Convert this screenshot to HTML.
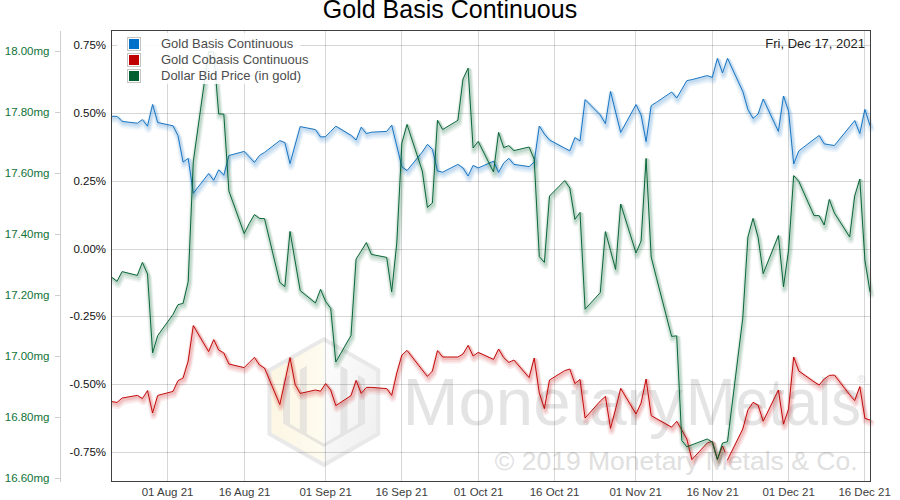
<!DOCTYPE html>
<html lang="en"><head><meta charset="utf-8"><title>Gold Basis Continuous</title>
<style>html,body{margin:0;padding:0;background:#fff;font-family:"Liberation Sans",sans-serif}svg{display:block}</style>
</head><body>
<svg width="900" height="500" viewBox="0 0 900 500" role="img" aria-label="Gold Basis Continuous chart">
<rect width="900" height="500" fill="#fff"/>
<g id="wm">
<defs><linearGradient id="lgL" x1="0" y1="0" x2="1" y2="0"><stop offset="0" stop-color="#fcf6e3"/><stop offset="1" stop-color="#fefbf0"/></linearGradient><linearGradient id="lgR" x1="0" y1="0" x2="1" y2="1"><stop offset="0" stop-color="#fdfdfd"/><stop offset="1" stop-color="#efefef"/></linearGradient></defs>
<polygon points="323.9,336.9 380.3,369.1 380.3,435 324,467.3 267.4,435 267.4,369.1" fill="#e9e9e9"/>
<polygon points="323.9,341.6 323.9,462.6 271.4,432.7 271.4,371.5" fill="url(#lgL)"/>
<polygon points="323.9,341.6 376.3,371.5 376.3,432.7 323.9,462.6" fill="url(#lgR)"/>
<path fill="#e7e5de" d="M283,379.0 L290,375.0 L290,424.1 L299.8,429.7 L299.8,369.8 L306.8,365.8 L306.8,433.7 L324,443.5 L324,447 L283,423.6 Z"/>
<path fill="#e4e4e4" d="M365,379.0 L358,375.0 L358,424.1 L347.4,430.1 L347.4,369.8 L340.4,365.8 L340.4,434.1 L324,443.5 L324,447 L365,423.6 Z"/>
<g font-family="'Liberation Sans', sans-serif">
<text x="402.5" y="424.7" font-size="67.2" text-anchor="start" fill="#e4e4e4">Monetary</text>
<text x="686" y="424.7" font-size="67.2" text-anchor="start" fill="#e4e4e4" textLength="175" lengthAdjust="spacingAndGlyphs">Metals</text>
<text x="857.2" y="382.9" font-size="11.0" text-anchor="start" fill="#e4e4e4">®</text>
<text x="857.5" y="469.8" font-size="26.5" text-anchor="end" fill="#e0e0e0">© 2019 Monetary Metals &amp; Co.</text>
</g>
</g>
<g shape-rendering="crispEdges" stroke="#000" stroke-opacity="0.16" stroke-width="1">
<line x1="167.5" y1="31" x2="167.5" y2="481" />
<line x1="244.5" y1="31" x2="244.5" y2="481" />
<line x1="325.5" y1="31" x2="325.5" y2="481" />
<line x1="401.5" y1="31" x2="401.5" y2="481" />
<line x1="478.5" y1="31" x2="478.5" y2="481" />
<line x1="554.5" y1="31" x2="554.5" y2="481" />
<line x1="635.5" y1="31" x2="635.5" y2="481" />
<line x1="712.5" y1="31" x2="712.5" y2="481" />
<line x1="788.5" y1="31" x2="788.5" y2="481" />
<line x1="864.5" y1="31" x2="864.5" y2="481" />
<line x1="112" y1="45.5" x2="870" y2="45.5"/>
<line x1="112" y1="113.5" x2="870" y2="113.5"/>
<line x1="112" y1="181.5" x2="870" y2="181.5"/>
<line x1="112" y1="249.5" x2="870" y2="249.5"/>
<line x1="112" y1="316.5" x2="870" y2="316.5"/>
<line x1="112" y1="384.5" x2="870" y2="384.5"/>
<line x1="112" y1="452.5" x2="870" y2="452.5"/>
</g>
<g shape-rendering="crispEdges" stroke="#cfcfcf" stroke-width="1">
<line x1="60.5" y1="31" x2="60.5" y2="482"/>
<line x1="55" y1="51.5" x2="60" y2="51.5"/>
<line x1="55" y1="112.5" x2="60" y2="112.5"/>
<line x1="55" y1="173.5" x2="60" y2="173.5"/>
<line x1="55" y1="234.5" x2="60" y2="234.5"/>
<line x1="55" y1="295.5" x2="60" y2="295.5"/>
<line x1="55" y1="356.5" x2="60" y2="356.5"/>
<line x1="55" y1="417.5" x2="60" y2="417.5"/>
<line x1="55" y1="478.5" x2="60" y2="478.5"/>
</g>
<clipPath id="cp"><rect x="111" y="30" width="764" height="452"/></clipPath>
<g fill="none" stroke="#0f70c0" stroke-linejoin="round" stroke-linecap="round" clip-path="url(#cp)">
<path d="M111.9,116.3 L117.0,116.3 L122.1,121.4 L137.3,123.2 L142.4,119.6 L147.5,126.2 L152.6,104.5 L157.7,122.5 L173.0,125.8 L178.0,135.7 L183.1,162.1 L188.2,158.3 L193.3,193.3 L208.6,173.5 L213.7,180.3 L218.7,169.8 L223.8,175.3 L228.9,155.5 L244.2,151.4 L249.3,156.9 L254.4,162.4 L259.5,155.4 L264.5,152.4 L279.8,140.6 L284.9,142.6 L290.0,163.6 L295.1,145.1 L300.2,126.6 L315.4,129.6 L320.5,137.0 L325.6,136.6 L330.7,131.4 L335.8,126.2 L351.0,135.4 L356.1,140.0 L361.2,127.2 L366.3,133.6 L371.4,132.2 L386.7,131.4 L391.7,125.2 L396.8,146.0 L401.9,166.8 L407.0,170.6 L422.3,152.0 L427.4,144.4 L432.4,149.4 L437.5,171.0 L442.6,172.2 L457.9,164.4 L463.0,168.0 L468.1,176.0 L473.1,165.4 L478.2,168.0 L493.5,161.2 L498.6,172.4 L503.7,163.0 L508.8,158.4 L513.9,164.4 L529.1,166.6 L534.2,162.0 L539.3,126.0 L544.4,134.0 L549.5,140.0 L564.7,148.2 L569.8,150.8 L574.9,137.6 L580.0,141.0 L585.1,99.6 L600.3,115.0 L605.4,123.6 L610.5,91.4 L615.6,112.0 L620.7,132.4 L636.0,104.6 L641.1,115.0 L646.1,141.6 L651.2,105.6 L656.3,102.4 L671.6,92.0 L676.7,98.0 L681.8,89.4 L686.8,80.6 L691.9,79.6 L707.2,75.6 L712.3,77.4 L717.4,58.4 L722.5,73.0 L727.5,58.4 L742.8,91.4 L747.9,109.4 L753.0,118.4 L758.1,114.0 L763.2,99.0 L778.4,131.4 L783.5,96.0 L788.6,111.2 L793.7,164.0 L798.8,150.9 L814.0,139.2 L819.1,135.5 L824.2,143.9 L829.3,144.7 L834.4,145.5 L849.7,126.7 L854.7,120.6 L859.8,133.5 L864.9,109.4 L870.0,125.5" stroke-width="7" stroke-opacity="0.07" transform="translate(1,3.3)"/>
<path d="M111.9,116.3 L117.0,116.3 L122.1,121.4 L137.3,123.2 L142.4,119.6 L147.5,126.2 L152.6,104.5 L157.7,122.5 L173.0,125.8 L178.0,135.7 L183.1,162.1 L188.2,158.3 L193.3,193.3 L208.6,173.5 L213.7,180.3 L218.7,169.8 L223.8,175.3 L228.9,155.5 L244.2,151.4 L249.3,156.9 L254.4,162.4 L259.5,155.4 L264.5,152.4 L279.8,140.6 L284.9,142.6 L290.0,163.6 L295.1,145.1 L300.2,126.6 L315.4,129.6 L320.5,137.0 L325.6,136.6 L330.7,131.4 L335.8,126.2 L351.0,135.4 L356.1,140.0 L361.2,127.2 L366.3,133.6 L371.4,132.2 L386.7,131.4 L391.7,125.2 L396.8,146.0 L401.9,166.8 L407.0,170.6 L422.3,152.0 L427.4,144.4 L432.4,149.4 L437.5,171.0 L442.6,172.2 L457.9,164.4 L463.0,168.0 L468.1,176.0 L473.1,165.4 L478.2,168.0 L493.5,161.2 L498.6,172.4 L503.7,163.0 L508.8,158.4 L513.9,164.4 L529.1,166.6 L534.2,162.0 L539.3,126.0 L544.4,134.0 L549.5,140.0 L564.7,148.2 L569.8,150.8 L574.9,137.6 L580.0,141.0 L585.1,99.6 L600.3,115.0 L605.4,123.6 L610.5,91.4 L615.6,112.0 L620.7,132.4 L636.0,104.6 L641.1,115.0 L646.1,141.6 L651.2,105.6 L656.3,102.4 L671.6,92.0 L676.7,98.0 L681.8,89.4 L686.8,80.6 L691.9,79.6 L707.2,75.6 L712.3,77.4 L717.4,58.4 L722.5,73.0 L727.5,58.4 L742.8,91.4 L747.9,109.4 L753.0,118.4 L758.1,114.0 L763.2,99.0 L778.4,131.4 L783.5,96.0 L788.6,111.2 L793.7,164.0 L798.8,150.9 L814.0,139.2 L819.1,135.5 L824.2,143.9 L829.3,144.7 L834.4,145.5 L849.7,126.7 L854.7,120.6 L859.8,133.5 L864.9,109.4 L870.0,125.5" stroke-width="5" stroke-opacity="0.085" transform="translate(1,2.4)"/>
<path d="M111.9,116.3 L117.0,116.3 L122.1,121.4 L137.3,123.2 L142.4,119.6 L147.5,126.2 L152.6,104.5 L157.7,122.5 L173.0,125.8 L178.0,135.7 L183.1,162.1 L188.2,158.3 L193.3,193.3 L208.6,173.5 L213.7,180.3 L218.7,169.8 L223.8,175.3 L228.9,155.5 L244.2,151.4 L249.3,156.9 L254.4,162.4 L259.5,155.4 L264.5,152.4 L279.8,140.6 L284.9,142.6 L290.0,163.6 L295.1,145.1 L300.2,126.6 L315.4,129.6 L320.5,137.0 L325.6,136.6 L330.7,131.4 L335.8,126.2 L351.0,135.4 L356.1,140.0 L361.2,127.2 L366.3,133.6 L371.4,132.2 L386.7,131.4 L391.7,125.2 L396.8,146.0 L401.9,166.8 L407.0,170.6 L422.3,152.0 L427.4,144.4 L432.4,149.4 L437.5,171.0 L442.6,172.2 L457.9,164.4 L463.0,168.0 L468.1,176.0 L473.1,165.4 L478.2,168.0 L493.5,161.2 L498.6,172.4 L503.7,163.0 L508.8,158.4 L513.9,164.4 L529.1,166.6 L534.2,162.0 L539.3,126.0 L544.4,134.0 L549.5,140.0 L564.7,148.2 L569.8,150.8 L574.9,137.6 L580.0,141.0 L585.1,99.6 L600.3,115.0 L605.4,123.6 L610.5,91.4 L615.6,112.0 L620.7,132.4 L636.0,104.6 L641.1,115.0 L646.1,141.6 L651.2,105.6 L656.3,102.4 L671.6,92.0 L676.7,98.0 L681.8,89.4 L686.8,80.6 L691.9,79.6 L707.2,75.6 L712.3,77.4 L717.4,58.4 L722.5,73.0 L727.5,58.4 L742.8,91.4 L747.9,109.4 L753.0,118.4 L758.1,114.0 L763.2,99.0 L778.4,131.4 L783.5,96.0 L788.6,111.2 L793.7,164.0 L798.8,150.9 L814.0,139.2 L819.1,135.5 L824.2,143.9 L829.3,144.7 L834.4,145.5 L849.7,126.7 L854.7,120.6 L859.8,133.5 L864.9,109.4 L870.0,125.5" stroke-width="3" stroke-opacity="0.11" transform="translate(1,1.5)"/>
<path d="M111.9,116.3 L117.0,116.3 L122.1,121.4 L137.3,123.2 L142.4,119.6 L147.5,126.2 L152.6,104.5 L157.7,122.5 L173.0,125.8 L178.0,135.7 L183.1,162.1 L188.2,158.3 L193.3,193.3 L208.6,173.5 L213.7,180.3 L218.7,169.8 L223.8,175.3 L228.9,155.5 L244.2,151.4 L249.3,156.9 L254.4,162.4 L259.5,155.4 L264.5,152.4 L279.8,140.6 L284.9,142.6 L290.0,163.6 L295.1,145.1 L300.2,126.6 L315.4,129.6 L320.5,137.0 L325.6,136.6 L330.7,131.4 L335.8,126.2 L351.0,135.4 L356.1,140.0 L361.2,127.2 L366.3,133.6 L371.4,132.2 L386.7,131.4 L391.7,125.2 L396.8,146.0 L401.9,166.8 L407.0,170.6 L422.3,152.0 L427.4,144.4 L432.4,149.4 L437.5,171.0 L442.6,172.2 L457.9,164.4 L463.0,168.0 L468.1,176.0 L473.1,165.4 L478.2,168.0 L493.5,161.2 L498.6,172.4 L503.7,163.0 L508.8,158.4 L513.9,164.4 L529.1,166.6 L534.2,162.0 L539.3,126.0 L544.4,134.0 L549.5,140.0 L564.7,148.2 L569.8,150.8 L574.9,137.6 L580.0,141.0 L585.1,99.6 L600.3,115.0 L605.4,123.6 L610.5,91.4 L615.6,112.0 L620.7,132.4 L636.0,104.6 L641.1,115.0 L646.1,141.6 L651.2,105.6 L656.3,102.4 L671.6,92.0 L676.7,98.0 L681.8,89.4 L686.8,80.6 L691.9,79.6 L707.2,75.6 L712.3,77.4 L717.4,58.4 L722.5,73.0 L727.5,58.4 L742.8,91.4 L747.9,109.4 L753.0,118.4 L758.1,114.0 L763.2,99.0 L778.4,131.4 L783.5,96.0 L788.6,111.2 L793.7,164.0 L798.8,150.9 L814.0,139.2 L819.1,135.5 L824.2,143.9 L829.3,144.7 L834.4,145.5 L849.7,126.7 L854.7,120.6 L859.8,133.5 L864.9,109.4 L870.0,125.5" stroke-width="0.95" stroke-linejoin="miter"/>
</g>
<g fill="none" stroke="#c00000" stroke-linejoin="round" stroke-linecap="round" clip-path="url(#cp)">
<path d="M111.9,401.6 L117.0,402.4 L122.1,398.0 L137.3,395.4 L142.4,398.6 L147.5,390.6 L152.6,413.0 L157.7,395.4 L173.0,391.4 L178.0,380.6 L183.1,378.0 L188.2,361.0 L193.3,325.6 L208.6,351.6 L213.7,339.6 L218.7,350.0 L223.8,353.0 L228.9,364.0 L244.2,367.6 L249.3,362.4 L254.4,357.4 L259.5,365.0 L264.5,368.0 L279.8,404.5 L284.9,381.4 L290.0,357.6 L295.1,384.4 L300.2,393.4 L315.4,390.0 L320.5,391.2 L325.6,383.6 L330.7,390.0 L335.8,405.6 L351.0,395.6 L356.1,380.4 L361.2,393.4 L366.3,387.4 L371.4,387.4 L386.7,388.6 L391.7,395.4 L396.8,373.0 L401.9,355.0 L407.0,350.4 L422.3,370.0 L427.4,376.4 L432.4,371.0 L437.5,350.6 L442.6,357.0 L457.9,357.0 L463.0,354.0 L468.1,345.4 L473.1,356.0 L478.2,352.4 L493.5,359.4 L498.6,349.0 L503.7,357.6 L508.8,362.4 L513.9,360.0 L529.1,377.6 L534.2,358.0 L539.3,393.0 L544.4,408.6 L549.5,380.0 L564.7,370.6 L569.8,369.0 L574.9,383.6 L580.0,379.4 L585.1,418.0 L600.3,401.0 L605.4,396.4 L610.5,428.4 L615.6,409.0 L620.7,388.4 L636.0,414.0 L641.1,403.0 L646.1,379.0 L651.2,415.6 L656.3,418.6 L671.6,427.2 L676.7,421.3 L681.8,430.0 L686.8,439.0 L691.9,459.6 L707.2,443.0 L712.3,441.3 L717.4,459.5 L722.5,446.0 L724.8,451.6 M727.5,460.0 L742.8,429.0 L747.9,410.0 L753.0,402.3 L758.1,405.2 L763.2,421.2 L778.4,390.0 L783.5,424.1 L788.6,408.8 L793.7,357.0 L798.8,371.0 L814.0,381.8 L819.1,385.0 L824.2,379.0 L829.3,375.4 L834.4,375.0 L849.7,394.8 L854.7,400.6 L859.8,386.6 L864.9,418.4 L870.0,420.0" stroke-width="7" stroke-opacity="0.07" transform="translate(1,3.3)"/>
<path d="M111.9,401.6 L117.0,402.4 L122.1,398.0 L137.3,395.4 L142.4,398.6 L147.5,390.6 L152.6,413.0 L157.7,395.4 L173.0,391.4 L178.0,380.6 L183.1,378.0 L188.2,361.0 L193.3,325.6 L208.6,351.6 L213.7,339.6 L218.7,350.0 L223.8,353.0 L228.9,364.0 L244.2,367.6 L249.3,362.4 L254.4,357.4 L259.5,365.0 L264.5,368.0 L279.8,404.5 L284.9,381.4 L290.0,357.6 L295.1,384.4 L300.2,393.4 L315.4,390.0 L320.5,391.2 L325.6,383.6 L330.7,390.0 L335.8,405.6 L351.0,395.6 L356.1,380.4 L361.2,393.4 L366.3,387.4 L371.4,387.4 L386.7,388.6 L391.7,395.4 L396.8,373.0 L401.9,355.0 L407.0,350.4 L422.3,370.0 L427.4,376.4 L432.4,371.0 L437.5,350.6 L442.6,357.0 L457.9,357.0 L463.0,354.0 L468.1,345.4 L473.1,356.0 L478.2,352.4 L493.5,359.4 L498.6,349.0 L503.7,357.6 L508.8,362.4 L513.9,360.0 L529.1,377.6 L534.2,358.0 L539.3,393.0 L544.4,408.6 L549.5,380.0 L564.7,370.6 L569.8,369.0 L574.9,383.6 L580.0,379.4 L585.1,418.0 L600.3,401.0 L605.4,396.4 L610.5,428.4 L615.6,409.0 L620.7,388.4 L636.0,414.0 L641.1,403.0 L646.1,379.0 L651.2,415.6 L656.3,418.6 L671.6,427.2 L676.7,421.3 L681.8,430.0 L686.8,439.0 L691.9,459.6 L707.2,443.0 L712.3,441.3 L717.4,459.5 L722.5,446.0 L724.8,451.6 M727.5,460.0 L742.8,429.0 L747.9,410.0 L753.0,402.3 L758.1,405.2 L763.2,421.2 L778.4,390.0 L783.5,424.1 L788.6,408.8 L793.7,357.0 L798.8,371.0 L814.0,381.8 L819.1,385.0 L824.2,379.0 L829.3,375.4 L834.4,375.0 L849.7,394.8 L854.7,400.6 L859.8,386.6 L864.9,418.4 L870.0,420.0" stroke-width="5" stroke-opacity="0.085" transform="translate(1,2.4)"/>
<path d="M111.9,401.6 L117.0,402.4 L122.1,398.0 L137.3,395.4 L142.4,398.6 L147.5,390.6 L152.6,413.0 L157.7,395.4 L173.0,391.4 L178.0,380.6 L183.1,378.0 L188.2,361.0 L193.3,325.6 L208.6,351.6 L213.7,339.6 L218.7,350.0 L223.8,353.0 L228.9,364.0 L244.2,367.6 L249.3,362.4 L254.4,357.4 L259.5,365.0 L264.5,368.0 L279.8,404.5 L284.9,381.4 L290.0,357.6 L295.1,384.4 L300.2,393.4 L315.4,390.0 L320.5,391.2 L325.6,383.6 L330.7,390.0 L335.8,405.6 L351.0,395.6 L356.1,380.4 L361.2,393.4 L366.3,387.4 L371.4,387.4 L386.7,388.6 L391.7,395.4 L396.8,373.0 L401.9,355.0 L407.0,350.4 L422.3,370.0 L427.4,376.4 L432.4,371.0 L437.5,350.6 L442.6,357.0 L457.9,357.0 L463.0,354.0 L468.1,345.4 L473.1,356.0 L478.2,352.4 L493.5,359.4 L498.6,349.0 L503.7,357.6 L508.8,362.4 L513.9,360.0 L529.1,377.6 L534.2,358.0 L539.3,393.0 L544.4,408.6 L549.5,380.0 L564.7,370.6 L569.8,369.0 L574.9,383.6 L580.0,379.4 L585.1,418.0 L600.3,401.0 L605.4,396.4 L610.5,428.4 L615.6,409.0 L620.7,388.4 L636.0,414.0 L641.1,403.0 L646.1,379.0 L651.2,415.6 L656.3,418.6 L671.6,427.2 L676.7,421.3 L681.8,430.0 L686.8,439.0 L691.9,459.6 L707.2,443.0 L712.3,441.3 L717.4,459.5 L722.5,446.0 L724.8,451.6 M727.5,460.0 L742.8,429.0 L747.9,410.0 L753.0,402.3 L758.1,405.2 L763.2,421.2 L778.4,390.0 L783.5,424.1 L788.6,408.8 L793.7,357.0 L798.8,371.0 L814.0,381.8 L819.1,385.0 L824.2,379.0 L829.3,375.4 L834.4,375.0 L849.7,394.8 L854.7,400.6 L859.8,386.6 L864.9,418.4 L870.0,420.0" stroke-width="3" stroke-opacity="0.11" transform="translate(1,1.5)"/>
<path d="M111.9,401.6 L117.0,402.4 L122.1,398.0 L137.3,395.4 L142.4,398.6 L147.5,390.6 L152.6,413.0 L157.7,395.4 L173.0,391.4 L178.0,380.6 L183.1,378.0 L188.2,361.0 L193.3,325.6 L208.6,351.6 L213.7,339.6 L218.7,350.0 L223.8,353.0 L228.9,364.0 L244.2,367.6 L249.3,362.4 L254.4,357.4 L259.5,365.0 L264.5,368.0 L279.8,404.5 L284.9,381.4 L290.0,357.6 L295.1,384.4 L300.2,393.4 L315.4,390.0 L320.5,391.2 L325.6,383.6 L330.7,390.0 L335.8,405.6 L351.0,395.6 L356.1,380.4 L361.2,393.4 L366.3,387.4 L371.4,387.4 L386.7,388.6 L391.7,395.4 L396.8,373.0 L401.9,355.0 L407.0,350.4 L422.3,370.0 L427.4,376.4 L432.4,371.0 L437.5,350.6 L442.6,357.0 L457.9,357.0 L463.0,354.0 L468.1,345.4 L473.1,356.0 L478.2,352.4 L493.5,359.4 L498.6,349.0 L503.7,357.6 L508.8,362.4 L513.9,360.0 L529.1,377.6 L534.2,358.0 L539.3,393.0 L544.4,408.6 L549.5,380.0 L564.7,370.6 L569.8,369.0 L574.9,383.6 L580.0,379.4 L585.1,418.0 L600.3,401.0 L605.4,396.4 L610.5,428.4 L615.6,409.0 L620.7,388.4 L636.0,414.0 L641.1,403.0 L646.1,379.0 L651.2,415.6 L656.3,418.6 L671.6,427.2 L676.7,421.3 L681.8,430.0 L686.8,439.0 L691.9,459.6 L707.2,443.0 L712.3,441.3 L717.4,459.5 L722.5,446.0 L724.8,451.6 M727.5,460.0 L742.8,429.0 L747.9,410.0 L753.0,402.3 L758.1,405.2 L763.2,421.2 L778.4,390.0 L783.5,424.1 L788.6,408.8 L793.7,357.0 L798.8,371.0 L814.0,381.8 L819.1,385.0 L824.2,379.0 L829.3,375.4 L834.4,375.0 L849.7,394.8 L854.7,400.6 L859.8,386.6 L864.9,418.4 L870.0,420.0" stroke-width="0.95" stroke-linejoin="miter"/>
</g>
<g fill="none" stroke="#006030" stroke-linejoin="round" stroke-linecap="round" clip-path="url(#cp)">
<path d="M111.9,277.4 L117.0,281.4 L122.1,271.6 L137.3,275.4 L142.4,262.4 L147.5,274.0 L152.6,353.0 L157.7,335.6 L173.0,314.4 L178.0,304.6 L183.1,303.4 L188.2,281.6 L193.3,161.6 L208.6,51.8 L213.7,51.8 L218.7,114.0 L223.8,114.0 L228.9,191.0 L244.2,233.6 L249.3,223.4 L254.4,214.6 L259.5,218.4 L264.5,218.6 L279.8,282.4 L284.9,286.6 L290.0,231.4 L295.1,261.0 L300.2,290.6 L315.4,303.0 L320.5,289.4 L325.6,301.4 L330.7,308.4 L335.8,362.0 L351.0,335.5 L356.1,259.0 L361.2,251.0 L366.3,242.6 L371.4,254.4 L386.7,257.4 L391.7,291.8 L396.8,243.0 L401.9,143.0 L407.0,124.4 L422.3,171.0 L427.4,207.4 L432.4,203.0 L437.5,120.3 L442.6,129.5 L457.9,120.3 L463.0,79.0 L468.1,68.2 L473.1,148.0 L478.2,141.4 L493.5,172.0 L498.6,132.4 L503.7,147.6 L508.8,145.6 L513.9,150.6 L529.1,147.0 L534.2,159.2 L539.3,256.6 L544.4,262.4 L549.5,196.0 L564.7,180.6 L569.8,188.0 L574.9,219.4 L580.0,212.4 L585.1,309.2 L600.3,292.5 L605.4,231.6 L610.5,250.4 L615.6,269.4 L620.7,204.0 L636.0,253.0 L641.1,241.0 L646.1,158.4 L651.2,257.0 L656.3,277.2 L671.6,336.4 L676.7,335.8 L681.8,440.5 L686.8,446.8 L691.9,444.8 L707.2,439.0 L712.3,442.2 L717.4,459.5 L722.5,443.0 L727.5,441.7 L742.8,318.0 L747.9,237.1 L753.0,218.4 L758.1,237.3 L763.2,273.7 L778.4,235.5 L783.5,286.7 L788.6,250.0 L793.7,175.6 L798.8,181.4 L814.0,215.6 L819.1,215.6 L824.2,225.0 L829.3,199.4 L834.4,213.0 L849.7,237.0 L854.7,196.0 L859.8,179.0 L864.9,260.0 L870.0,291.7" stroke-width="7" stroke-opacity="0.07" transform="translate(1,3.3)"/>
<path d="M111.9,277.4 L117.0,281.4 L122.1,271.6 L137.3,275.4 L142.4,262.4 L147.5,274.0 L152.6,353.0 L157.7,335.6 L173.0,314.4 L178.0,304.6 L183.1,303.4 L188.2,281.6 L193.3,161.6 L208.6,51.8 L213.7,51.8 L218.7,114.0 L223.8,114.0 L228.9,191.0 L244.2,233.6 L249.3,223.4 L254.4,214.6 L259.5,218.4 L264.5,218.6 L279.8,282.4 L284.9,286.6 L290.0,231.4 L295.1,261.0 L300.2,290.6 L315.4,303.0 L320.5,289.4 L325.6,301.4 L330.7,308.4 L335.8,362.0 L351.0,335.5 L356.1,259.0 L361.2,251.0 L366.3,242.6 L371.4,254.4 L386.7,257.4 L391.7,291.8 L396.8,243.0 L401.9,143.0 L407.0,124.4 L422.3,171.0 L427.4,207.4 L432.4,203.0 L437.5,120.3 L442.6,129.5 L457.9,120.3 L463.0,79.0 L468.1,68.2 L473.1,148.0 L478.2,141.4 L493.5,172.0 L498.6,132.4 L503.7,147.6 L508.8,145.6 L513.9,150.6 L529.1,147.0 L534.2,159.2 L539.3,256.6 L544.4,262.4 L549.5,196.0 L564.7,180.6 L569.8,188.0 L574.9,219.4 L580.0,212.4 L585.1,309.2 L600.3,292.5 L605.4,231.6 L610.5,250.4 L615.6,269.4 L620.7,204.0 L636.0,253.0 L641.1,241.0 L646.1,158.4 L651.2,257.0 L656.3,277.2 L671.6,336.4 L676.7,335.8 L681.8,440.5 L686.8,446.8 L691.9,444.8 L707.2,439.0 L712.3,442.2 L717.4,459.5 L722.5,443.0 L727.5,441.7 L742.8,318.0 L747.9,237.1 L753.0,218.4 L758.1,237.3 L763.2,273.7 L778.4,235.5 L783.5,286.7 L788.6,250.0 L793.7,175.6 L798.8,181.4 L814.0,215.6 L819.1,215.6 L824.2,225.0 L829.3,199.4 L834.4,213.0 L849.7,237.0 L854.7,196.0 L859.8,179.0 L864.9,260.0 L870.0,291.7" stroke-width="5" stroke-opacity="0.085" transform="translate(1,2.4)"/>
<path d="M111.9,277.4 L117.0,281.4 L122.1,271.6 L137.3,275.4 L142.4,262.4 L147.5,274.0 L152.6,353.0 L157.7,335.6 L173.0,314.4 L178.0,304.6 L183.1,303.4 L188.2,281.6 L193.3,161.6 L208.6,51.8 L213.7,51.8 L218.7,114.0 L223.8,114.0 L228.9,191.0 L244.2,233.6 L249.3,223.4 L254.4,214.6 L259.5,218.4 L264.5,218.6 L279.8,282.4 L284.9,286.6 L290.0,231.4 L295.1,261.0 L300.2,290.6 L315.4,303.0 L320.5,289.4 L325.6,301.4 L330.7,308.4 L335.8,362.0 L351.0,335.5 L356.1,259.0 L361.2,251.0 L366.3,242.6 L371.4,254.4 L386.7,257.4 L391.7,291.8 L396.8,243.0 L401.9,143.0 L407.0,124.4 L422.3,171.0 L427.4,207.4 L432.4,203.0 L437.5,120.3 L442.6,129.5 L457.9,120.3 L463.0,79.0 L468.1,68.2 L473.1,148.0 L478.2,141.4 L493.5,172.0 L498.6,132.4 L503.7,147.6 L508.8,145.6 L513.9,150.6 L529.1,147.0 L534.2,159.2 L539.3,256.6 L544.4,262.4 L549.5,196.0 L564.7,180.6 L569.8,188.0 L574.9,219.4 L580.0,212.4 L585.1,309.2 L600.3,292.5 L605.4,231.6 L610.5,250.4 L615.6,269.4 L620.7,204.0 L636.0,253.0 L641.1,241.0 L646.1,158.4 L651.2,257.0 L656.3,277.2 L671.6,336.4 L676.7,335.8 L681.8,440.5 L686.8,446.8 L691.9,444.8 L707.2,439.0 L712.3,442.2 L717.4,459.5 L722.5,443.0 L727.5,441.7 L742.8,318.0 L747.9,237.1 L753.0,218.4 L758.1,237.3 L763.2,273.7 L778.4,235.5 L783.5,286.7 L788.6,250.0 L793.7,175.6 L798.8,181.4 L814.0,215.6 L819.1,215.6 L824.2,225.0 L829.3,199.4 L834.4,213.0 L849.7,237.0 L854.7,196.0 L859.8,179.0 L864.9,260.0 L870.0,291.7" stroke-width="3" stroke-opacity="0.11" transform="translate(1,1.5)"/>
<path d="M111.9,277.4 L117.0,281.4 L122.1,271.6 L137.3,275.4 L142.4,262.4 L147.5,274.0 L152.6,353.0 L157.7,335.6 L173.0,314.4 L178.0,304.6 L183.1,303.4 L188.2,281.6 L193.3,161.6 L208.6,51.8 L213.7,51.8 L218.7,114.0 L223.8,114.0 L228.9,191.0 L244.2,233.6 L249.3,223.4 L254.4,214.6 L259.5,218.4 L264.5,218.6 L279.8,282.4 L284.9,286.6 L290.0,231.4 L295.1,261.0 L300.2,290.6 L315.4,303.0 L320.5,289.4 L325.6,301.4 L330.7,308.4 L335.8,362.0 L351.0,335.5 L356.1,259.0 L361.2,251.0 L366.3,242.6 L371.4,254.4 L386.7,257.4 L391.7,291.8 L396.8,243.0 L401.9,143.0 L407.0,124.4 L422.3,171.0 L427.4,207.4 L432.4,203.0 L437.5,120.3 L442.6,129.5 L457.9,120.3 L463.0,79.0 L468.1,68.2 L473.1,148.0 L478.2,141.4 L493.5,172.0 L498.6,132.4 L503.7,147.6 L508.8,145.6 L513.9,150.6 L529.1,147.0 L534.2,159.2 L539.3,256.6 L544.4,262.4 L549.5,196.0 L564.7,180.6 L569.8,188.0 L574.9,219.4 L580.0,212.4 L585.1,309.2 L600.3,292.5 L605.4,231.6 L610.5,250.4 L615.6,269.4 L620.7,204.0 L636.0,253.0 L641.1,241.0 L646.1,158.4 L651.2,257.0 L656.3,277.2 L671.6,336.4 L676.7,335.8 L681.8,440.5 L686.8,446.8 L691.9,444.8 L707.2,439.0 L712.3,442.2 L717.4,459.5 L722.5,443.0 L727.5,441.7 L742.8,318.0 L747.9,237.1 L753.0,218.4 L758.1,237.3 L763.2,273.7 L778.4,235.5 L783.5,286.7 L788.6,250.0 L793.7,175.6 L798.8,181.4 L814.0,215.6 L819.1,215.6 L824.2,225.0 L829.3,199.4 L834.4,213.0 L849.7,237.0 L854.7,196.0 L859.8,179.0 L864.9,260.0 L870.0,291.7" stroke-width="0.95" stroke-linejoin="miter"/>
</g>
<rect x="111.5" y="30.5" width="759" height="451" fill="none" stroke="#404040" stroke-width="1" shape-rendering="crispEdges"/>
<rect x="117" y="33" width="183.5" height="51" fill="#fff" fill-opacity="0.88"/>
<rect x="127.5" y="37.5" width="13" height="13" fill="#fff" stroke="#c4c4c4" stroke-width="1" shape-rendering="crispEdges"/>
<rect x="129" y="39" width="10" height="10" fill="#0070c8" shape-rendering="crispEdges"/>
<rect x="127.5" y="53.5" width="13" height="13" fill="#fff" stroke="#c4c4c4" stroke-width="1" shape-rendering="crispEdges"/>
<rect x="129" y="55" width="10" height="10" fill="#c00000" shape-rendering="crispEdges"/>
<rect x="127.5" y="69.5" width="13" height="13" fill="#fff" stroke="#c4c4c4" stroke-width="1" shape-rendering="crispEdges"/>
<rect x="129" y="71" width="10" height="10" fill="#006030" shape-rendering="crispEdges"/>
<g font-family="'Liberation Sans', sans-serif">
<text x="161.0" y="48.0" font-size="13" text-anchor="start" fill="#4c4c4c">Gold Basis Continuous</text>
<text x="161.0" y="64.0" font-size="13" text-anchor="start" fill="#4c4c4c">Gold Cobasis Continuous</text>
<text x="161.0" y="80.0" font-size="13" text-anchor="start" fill="#4c4c4c">Dollar Bid Price (in gold)</text>
<text x="450.0" y="17.6" font-size="25" text-anchor="middle" fill="#000">Gold Basis Continuous</text>
<text x="865.0" y="48.0" font-size="13" text-anchor="end" fill="#222">Fri, Dec 17, 2021</text>
<g font-size="11.5" text-anchor="end" fill="#111">
<text x="106.0" y="48.8">0.75%</text>
<text x="106.0" y="116.8">0.50%</text>
<text x="106.0" y="184.8">0.25%</text>
<text x="106.0" y="252.8">0.00%</text>
<text x="106.0" y="319.8">-0.25%</text>
<text x="106.0" y="387.8">-0.50%</text>
<text x="106.0" y="455.8">-0.75%</text>
</g>
<g font-size="11.5" text-anchor="end" fill="#0f7338">
<text x="49.5" y="54.9">18.00mg</text>
<text x="49.5" y="115.9">17.80mg</text>
<text x="49.5" y="176.9">17.60mg</text>
<text x="49.5" y="237.9">17.40mg</text>
<text x="49.5" y="298.9">17.20mg</text>
<text x="49.5" y="359.9">17.00mg</text>
<text x="49.5" y="420.9">16.80mg</text>
<text x="49.5" y="481.9">16.60mg</text>
</g>
<g font-size="11.5" text-anchor="middle" fill="#3c3c3c">
<text x="167.6" y="495.7">01 Aug 21</text>
<text x="244.6" y="495.7">16 Aug 21</text>
<text x="325.6" y="495.7">01 Sep 21</text>
<text x="401.6" y="495.7">16 Sep 21</text>
<text x="478.6" y="495.7">01 Oct 21</text>
<text x="554.6" y="495.7">16 Oct 21</text>
<text x="635.6" y="495.7">01 Nov 21</text>
<text x="712.6" y="495.7">16 Nov 21</text>
<text x="788.6" y="495.7">01 Dec 21</text>
<text x="864.6" y="495.7">16 Dec 21</text>
</g>
</g>
</svg>
</body></html>
